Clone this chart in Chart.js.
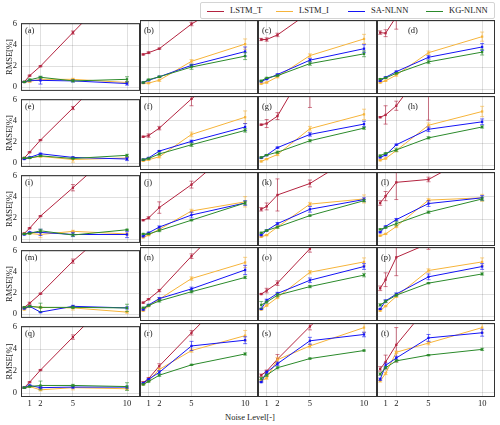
<!DOCTYPE html>
<html>
<head>
<meta charset="utf-8">
<script src="https://cdn.jsdelivr.net/npm/chart.js@4.4.1/dist/chart.umd.min.js"></script>
<style>
  body { margin: 0; background: #fff; width: 500px; height: 425px; position: relative; overflow: hidden;
         font-family: 'Liberation Serif', 'DejaVu Serif', serif; color: #222; }
  .panel { position: absolute; }
  .tag { position: absolute; font-size: 8.5px; line-height: 1; }
  #legend { position: absolute; left: 200px; top: 2px; width: 295px; height: 17px; box-sizing: border-box;
            border: 1px solid #d4d4d4; border-radius: 2px; background: #fff; }
  .key { position: absolute; top: 8px; width: 17px; height: 0; border-top: 1px solid; }
  .keyText { position: absolute; top: 3px; font-size: 8.5px; line-height: 1; }
  #xlabel { position: absolute; left: 0; width: 500px; top: 412px; text-align: center; font-size: 8.5px; }
</style>
</head>
<body>
<div id="legend"></div>
<div id="xlabel">Noise Level[-]</div>
<script>
const noiseLevels = [0.5, 1, 2, 5, 10]
const xTicks = [1, 2, 5, 10]
const yTicks = [0, 2, 4, 6]
const panelNames = ['(a)', '(b)', '(c)', '(d)', '(e)', '(f)', '(g)', '(h)', '(i)', '(j)',
                    '(k)', '(l)', '(m)', '(n)', '(o)', '(p)', '(q)', '(r)', '(s)', '(t)']
const seriesNames = ['LSTM_T', 'LSTM_I', 'SA-NLNN', 'KG-NLNN']
const seriesColors = ['#b3233f', '#f6b43a', '#1414f5', '#2b8a2b']

// one row of 5 values per panel, (a) .. (t)
const lstmT = [
  [0.5, 1.1, 2.0, 5.2, 10.5], [3.1, 3.25, 3.6, 5.75, 8.5], [4.4, 4.4, 4.8, 6.8, 9.0], [5.0, 4.95, 6.4, 9.0, 12.0],
  [0.5, 1.05, 2.2, 5.25, 10.5], [2.55, 2.65, 3.3, 5.85, 9.5], [3.6, 3.7, 4.35, 9.2, 14.0], [4.25, 4.45, 5.25, 9.0, 13.0],
  [0.55, 1.05, 2.2, 4.9, 9.5], [1.9, 2.1, 3.0, 5.0, 9.0], [2.85, 3.1, 4.1, 5.1, 8.0], [3.4, 4.0, 5.2, 5.45, 8.0],
  [0.65, 1.05, 1.95, 5.05, 9.5], [1.25, 1.55, 2.3, 5.3, 10.0], [2.0, 2.3, 2.95, 5.95, 10.0], [2.5, 3.25, 5.2, 6.4, 8.0],
  [0.5, 1.0, 2.1, 5.1, 10.0], [0.9, 1.25, 2.35, 5.25, 10.0], [1.55, 1.9, 2.95, 5.8, 10.0], [2.1, 2.7, 4.2, 7.6, 12.0]
]
const lstmI = [
  [0.5, 0.55, 0.75, 0.75, 0.45], [0.6, 0.6, 0.85, 2.5, 4.0], [0.55, 0.65, 1.15, 3.0, 4.45], [0.65, 0.8, 1.3, 3.25, 4.65],
  [0.45, 0.5, 0.65, 0.35, 0.5], [0.45, 0.55, 0.8, 2.75, 4.25], [0.4, 0.6, 1.0, 3.25, 4.5], [0.5, 0.65, 1.35, 3.55, 4.75],
  [0.5, 0.55, 0.45, 0.75, 0.5], [0.4, 0.6, 1.1, 2.7, 3.5], [0.45, 0.6, 1.3, 3.3, 3.75], [0.55, 0.7, 1.35, 3.65, 3.85],
  [0.45, 0.75, 0.65, 0.6, 0.2], [0.55, 0.95, 1.55, 3.35, 4.75], [0.65, 1.0, 1.7, 3.9, 4.8], [0.55, 0.95, 1.8, 4.05, 4.8],
  [0.5, 0.6, 0.3, 0.5, 0.4], [0.75, 1.05, 2.05, 3.7, 5.0], [1.05, 1.3, 2.9, 4.1, 5.7], [1.05, 1.7, 3.55, 4.35, 5.7]
]
const saNlnn = [
  [0.5, 0.65, 0.65, 0.6, 0.35], [0.65, 0.85, 1.15, 2.15, 3.35], [0.75, 0.95, 1.35, 2.6, 3.6], [0.8, 1.1, 1.6, 2.85, 3.75],
  [0.4, 0.55, 0.9, 0.55, 0.4], [0.55, 0.7, 1.3, 2.15, 3.4], [0.7, 0.95, 1.6, 2.75, 3.65], [0.75, 0.95, 1.85, 3.2, 3.85],
  [0.45, 0.65, 0.65, 0.45, 0.45], [0.5, 0.8, 1.3, 2.35, 3.4], [0.6, 1.0, 1.6, 2.85, 3.7], [0.85, 1.35, 1.95, 3.35, 3.85],
  [0.55, 0.75, 0.2, 0.75, 0.6], [0.65, 1.05, 1.6, 2.45, 4.1], [0.7, 1.45, 2.05, 3.2, 4.4], [0.7, 1.4, 2.0, 3.5, 4.4],
  [0.5, 0.7, 0.5, 0.55, 0.55], [0.85, 1.2, 1.8, 4.1, 4.6], [0.95, 1.8, 2.55, 4.55, 5.1], [1.2, 2.4, 3.05, 4.8, 5.25]
]
const kgNlnn = [
  [0.5, 0.7, 0.95, 0.6, 0.75], [0.65, 0.9, 1.15, 2.0, 2.95], [0.8, 1.05, 1.25, 2.3, 3.15], [0.95, 1.05, 1.45, 2.45, 3.3],
  [0.5, 0.5, 0.7, 0.45, 0.75], [0.55, 0.65, 1.05, 1.85, 3.1], [0.75, 0.95, 1.2, 2.2, 3.3], [0.9, 1.1, 1.4, 2.45, 3.4],
  [0.5, 0.55, 0.8, 0.4, 0.9], [0.7, 0.7, 1.0, 1.9, 3.4], [0.8, 1.0, 1.3, 2.3, 3.6], [1.1, 1.25, 1.6, 2.6, 3.75],
  [0.65, 0.75, 0.65, 0.65, 0.6], [0.8, 1.0, 1.4, 2.2, 3.45], [1.05, 1.3, 1.9, 2.65, 3.65], [1.05, 1.35, 1.9, 2.95, 3.75],
  [0.5, 0.6, 0.7, 0.7, 0.6], [0.75, 1.0, 1.55, 2.45, 3.4], [1.25, 1.55, 2.2, 3.0, 3.7], [1.65, 2.2, 2.8, 3.3, 3.8]
]

// error bar half-lengths, same layout
const lstmTErr = [
  [0.05, 0.05, 0.05, 0.15, 0.2], [0.05, 0.08, 0.05, 0.15, 0.2], [0.1, 0.15, 0.15, 0.2, 0.3], [0.15, 0.3, 1.1, 0.5, 0.5],
  [0.05, 0.05, 0.05, 0.15, 0.2], [0.05, 0.15, 0.15, 0.6, 0.5], [0.05, 0.35, 0.3, 4.1, 1.0], [0.05, 0.8, 0.4, 5.0, 1.0],
  [0.05, 0.05, 0.05, 0.3, 0.3], [0.05, 0.1, 0.5, 0.3, 0.3], [0.15, 0.3, 1.4, 0.3, 0.5], [0.2, 0.4, 1.5, 0.2, 0.5],
  [0.05, 0.1, 0.05, 0.2, 0.3], [0.05, 0.05, 0.1, 0.2, 0.3], [0.05, 0.2, 0.2, 0.3, 0.5], [0.2, 0.6, 1.6, 0.5, 0.5],
  [0.05, 0.05, 0.05, 0.2, 0.3], [0.1, 0.1, 0.2, 0.2, 0.3], [0.1, 0.1, 0.4, 0.3, 0.5], [0.2, 0.6, 1.5, 0.5, 0.5]
]
const lstmIErr = [
  [0.05, 0.1, 0.1, 0.1, 0.1], [0.05, 0.05, 0.1, 0.15, 0.45], [0.05, 0.05, 0.1, 0.15, 0.4], [0.05, 0.05, 0.1, 0.15, 0.4],
  [0.05, 0.05, 0.1, 0.25, 0.1], [0.05, 0.05, 0.1, 0.2, 0.55], [0.05, 0.05, 0.1, 0.2, 0.45], [0.05, 0.05, 0.1, 0.2, 0.45],
  [0.05, 0.05, 0.3, 0.1, 0.1], [0.05, 0.05, 0.1, 0.15, 0.45], [0.05, 0.05, 0.1, 0.15, 0.35], [0.05, 0.05, 0.1, 0.15, 0.3],
  [0.05, 0.05, 0.1, 0.2, 0.1], [0.05, 0.05, 0.1, 0.15, 0.45], [0.05, 0.05, 0.1, 0.15, 0.35], [0.05, 0.05, 0.1, 0.15, 0.35],
  [0.05, 0.05, 0.1, 0.2, 0.1], [0.05, 0.05, 0.1, 0.15, 0.45], [0.1, 0.1, 0.2, 0.15, 0.45], [0.1, 0.1, 0.1, 0.15, 0.45]
]
const saErr = [
  [0.05, 0.05, 0.35, 0.1, 0.15], [0.05, 0.05, 0.05, 0.1, 0.4], [0.05, 0.05, 0.05, 0.15, 0.35], [0.05, 0.05, 0.05, 0.15, 0.3],
  [0.05, 0.05, 0.05, 0.05, 0.15], [0.05, 0.05, 0.05, 0.1, 0.3], [0.05, 0.05, 0.05, 0.15, 0.25], [0.05, 0.05, 0.05, 0.2, 0.25],
  [0.05, 0.05, 0.3, 0.2, 0.3], [0.05, 0.05, 0.1, 0.25, 0.2], [0.05, 0.05, 0.1, 0.25, 0.15], [0.05, 0.05, 0.1, 0.25, 0.2],
  [0.05, 0.05, 0.05, 0.1, 0.1], [0.05, 0.05, 0.1, 0.15, 0.4], [0.05, 0.1, 0.1, 0.2, 0.25], [0.05, 0.1, 0.1, 0.25, 0.25],
  [0.05, 0.05, 0.1, 0.1, 0.1], [0.05, 0.05, 0.15, 0.4, 0.3], [0.05, 0.1, 0.15, 0.3, 0.2], [0.1, 0.2, 0.15, 0.3, 0.3]
]
const kgErr = [
  [0.05, 0.1, 0.1, 0.1, 0.25], [0.05, 0.05, 0.05, 0.2, 0.3], [0.05, 0.05, 0.05, 0.15, 0.25], [0.05, 0.05, 0.05, 0.15, 0.25],
  [0.05, 0.05, 0.05, 0.05, 0.1], [0.05, 0.05, 0.1, 0.15, 0.15], [0.05, 0.05, 0.1, 0.1, 0.1], [0.05, 0.05, 0.15, 0.1, 0.1],
  [0.05, 0.05, 0.15, 0.1, 0.05], [0.05, 0.05, 0.1, 0.05, 0.15], [0.05, 0.05, 0.1, 0.05, 0.1], [0.05, 0.05, 0.2, 0.1, 0.15],
  [0.05, 0.05, 0.4, 0.1, 0.35], [0.05, 0.05, 0.1, 0.1, 0.1], [0.3, 0.1, 0.15, 0.1, 0.15], [0.1, 0.1, 0.1, 0.05, 0.1],
  [0.05, 0.05, 0.4, 0.1, 0.35], [0.05, 0.05, 0.1, 0.05, 0.1], [0.1, 0.1, 0.1, 0.05, 0.05], [0.1, 0.1, 0.1, 0.05, 0.1]
]

const seriesData = [lstmT, lstmI, saNlnn, kgNlnn]
const seriesErr = [lstmTErr, lstmIErr, saErr, kgErr]

const X_MIN = 0.2, X_MAX = 11.2, Y_MIN = -0.35, Y_MAX = 6.1
const PAD = 6
const tickFont = { family: "'Liberation Serif', serif", size: 8.5 }
const gridColor = 'rgba(0,0,0,0.12)'

const colEdge = c => Math.round(21 + c * 118.5)
const rowTop = r => Math.round(20 + r * 75.75)
const PANEL_H = 74

// (d) and (h) have their tag pushed right, out of the red curve's way
const tagShift = i => (i === 3 || i === 7) ? 31 : 4

// legend built from the series names
const legend = document.getElementById('legend')
const keyLeft = [6, 75, 147, 225]
seriesNames.forEach((name, k) => {
  const line = document.createElement('div')
  line.className = 'key'
  line.style.left = keyLeft[k] + 'px'
  line.style.borderColor = seriesColors[k]
  legend.appendChild(line)
  const txt = document.createElement('div')
  txt.className = 'keyText'
  txt.style.left = (keyLeft[k] + 23) + 'px'
  txt.textContent = name
  legend.appendChild(txt)
})

const errorBars = {
  id: 'errorBars',
  afterDatasetDraw(chart, args) {
    const ds = chart.data.datasets[args.index]
    const { ctx, chartArea, scales } = chart
    ctx.save()
    ctx.beginPath()
    ctx.rect(chartArea.left, chartArea.top, chartArea.width, chartArea.height)
    ctx.clip()
    ctx.strokeStyle = ds.borderColor
    ctx.globalAlpha = 0.6
    ctx.lineWidth = 1
    ds.data.forEach((p, j) => {
      const e = ds.errors[j]
      const px = scales.x.getPixelForValue(p.x)
      const top = scales.y.getPixelForValue(p.y + e)
      const bot = scales.y.getPixelForValue(p.y - e)
      ctx.beginPath()
      ctx.moveTo(px, top); ctx.lineTo(px, bot)
      ctx.moveTo(px - 2, top); ctx.lineTo(px + 2, top)
      ctx.moveTo(px - 2, bot); ctx.lineTo(px + 2, bot)
      ctx.stroke()
    })
    ctx.restore()
  }
}

const frame = {
  id: 'frame',
  afterDraw(chart) {
    const { ctx, chartArea } = chart
    ctx.save()
    ctx.strokeStyle = '#333'
    ctx.lineWidth = 1
    ctx.strokeRect(chartArea.left + 0.5, chartArea.top + 0.5, chartArea.width - 1, chartArea.height - 1)
    ctx.restore()
  }
}

panelNames.forEach((name, i) => {
  const r = Math.floor(i / 4)
  const c = i % 4
  const left = colEdge(c)
  const w = colEdge(c + 1) - left
  const top = rowTop(r)
  const h = PANEL_H
  const yw = c === 0 ? 20 : 0
  const xh = r === 4 ? 14 : 0

  const box = document.createElement('div')
  box.className = 'panel'
  box.style.left = (left - PAD - yw) + 'px'
  box.style.top = (top - PAD) + 'px'
  box.style.width = (w + 2 * PAD + yw) + 'px'
  box.style.height = (h + 2 * PAD + xh) + 'px'
  const canvas = document.createElement('canvas')
  box.appendChild(canvas)
  document.body.appendChild(box)

  const tag = document.createElement('div')
  tag.className = 'tag'
  tag.style.left = (left + tagShift(i)) + 'px'
  tag.style.top = (top + 6) + 'px'
  tag.textContent = name
  document.body.appendChild(tag)

  new Chart(canvas, {
    type: 'line',
    data: {
      datasets: seriesData.map((s, k) => ({
        label: seriesNames[k],
        data: noiseLevels.map((x, j) => ({ x: x, y: s[i][j] })),
        errors: seriesErr[k][i],
        borderColor: seriesColors[k],
        backgroundColor: seriesColors[k],
        borderWidth: 1,
        pointStyle: 'rect',
        pointRadius: 1.6,
        pointBorderWidth: 0,
        tension: 0,
        order: 3 - k
      }))
    },
    options: {
      responsive: true,
      maintainAspectRatio: false,
      animation: false,
      events: [],
      layout: { padding: PAD },
      plugins: { legend: { display: false }, tooltip: { enabled: false } },
      scales: {
        x: {
          type: 'linear', min: X_MIN, max: X_MAX,
          afterBuildTicks: s => { s.ticks = xTicks.map(v => ({ value: v })) },
          afterFit: s => { s.height = xh },
          ticks: { display: r === 4, font: tickFont, color: '#222', padding: 2, maxRotation: 0, autoSkip: false },
          grid: { color: gridColor, drawTicks: false },
          border: { display: false }
        },
        y: {
          type: 'linear', min: Y_MIN, max: Y_MAX,
          afterBuildTicks: s => { s.ticks = yTicks.map(v => ({ value: v })) },
          afterFit: s => { s.width = yw },
          ticks: { display: c === 0, font: tickFont, color: '#222', padding: 4 },
          title: { display: c === 0, text: 'RMSE[%]', font: tickFont, color: '#222' },
          grid: { color: gridColor, drawTicks: false },
          border: { display: false }
        }
      }
    },
    plugins: [errorBars, frame]
  })
})
</script>
</body>
</html>
